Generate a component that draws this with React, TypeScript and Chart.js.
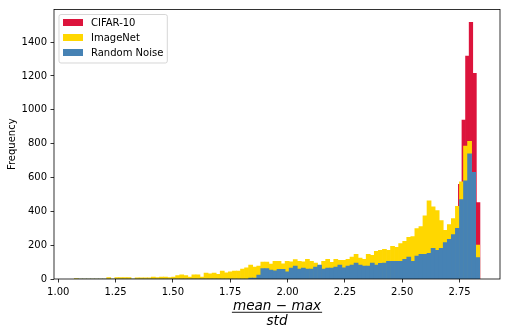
import React, { useEffect, useRef } from "react";
import { Chart, registerables } from "chart.js";

Chart.register(...registerables);

// ---- series ----
const seriesLabels = ["CIFAR-10", "ImageNet", "Random Noise"];
const seriesColors = ["#DC143C", "#FFD700", "#4682B4"];

// Shared bin grid of the ImageNet / Random Noise histograms (100 bins)
const binStart = 1.07;
const binWidth = 0.01768;

const imagenetCounts = [
  1, 0, 0, 0, 0, 0, 0, 0, 8, 0,
  8, 8, 8, 8, 0, 7, 7, 7, 7, 12,
  8, 12, 12, 8, 12, 20, 25, 20, 12, 25,
  24, 12, 35, 31, 35, 28, 47, 37, 43, 47,
  47, 58, 66, 82, 70, 76, 100, 100, 88, 105,
  105, 90, 105, 101, 115, 105, 101, 117, 105, 94,
  76, 105, 117, 99, 117, 111, 111, 117, 129, 146,
  123, 117, 146, 140, 164, 170, 175, 170, 193, 187,
  209, 222, 246, 251, 298, 310, 374, 462, 427, 404,
  345, 287, 322, 357, 429, 574, 785, 814, 625, 200,
];

const noiseCounts = [
  0, 0, 0, 0, 0, 0, 0, 0, 0, 0,
  0, 0, 0, 0, 0, 0, 0, 0, 0, 0,
  0, 0, 0, 0, 0, 0, 0, 0, 0, 0,
  0, 0, 0, 0, 0, 0, 0, 0, 0, 0,
  0, 0, 0, 6, 6, 23, 62, 62, 53, 48,
  57, 57, 43, 64, 76, 59, 64, 59, 59, 70,
  82, 59, 64, 64, 70, 82, 66, 76, 82, 94,
  82, 76, 76, 94, 82, 92, 94, 105, 105, 105,
  105, 117, 129, 105, 135, 146, 146, 152, 181, 170,
  181, 215, 235, 262, 300, 470, 580, 740, 630, 126,
];

// CIFAR-10 histogram has its own (narrower) bins; tail bins listed
const cifarBinStart = 2.525;
const cifarBinWidth = 0.0157;
const cifarCounts = [
  40, 45, 50, 55, 60, 65, 75, 85, 95, 110,
  140, 180, 250, 340, 560, 940, 1318, 1517, 1215, 452,
];

// ---- axes ----
const xTicks = [1.0, 1.25, 1.5, 1.75, 2.0, 2.25, 2.5, 2.75];
const yTicks = [0, 200, 400, 600, 800, 1000, 1200, 1400];
const yMax = 1593;
const yTitle = "Frequency";
const xTitleNumerator = "mean \u2212 max";
const xTitleDenominator = "std";

const FONT = "'DejaVu Sans', 'Liberation Sans', sans-serif";

export default function App() {
  const ref = useRef<HTMLCanvasElement>(null);

  useEffect(() => {
    const canvas = ref.current;
    if (!canvas) return;

    const lo = binStart;
    const hi = binStart + imagenetCounts.length * binWidth;
    const xMin = lo - 0.05 * (hi - lo);
    const xMax = hi + 0.05 * (hi - lo);

    const toPoints = (start: number, width: number, counts: number[]) =>
      counts.map((c, i) => ({ x: start + (i + 0.5) * width, y: c }));

    const decorPlugin = {
      id: "decor",
      afterDatasetsDraw(chart: any) {
        const { ctx, chartArea: ca } = chart;
        ctx.save();
        // frame
        ctx.strokeStyle = "#000";
        ctx.lineWidth = 0.8;
        ctx.strokeRect(ca.left, ca.top, ca.right - ca.left, ca.bottom - ca.top);

        // legend
        ctx.font = `10px ${FONT}`;
        const widths = seriesLabels.map((l) => ctx.measureText(l).width);
        const maxW = Math.max(...widths);
        const lx = ca.left + 5;
        const ly = ca.top + 5;
        const lw = 4 + 20 + 8 + maxW + 4;
        const lh = 48.5;
        ctx.beginPath();
        const r = 2;
        ctx.moveTo(lx + r, ly);
        ctx.lineTo(lx + lw - r, ly);
        ctx.quadraticCurveTo(lx + lw, ly, lx + lw, ly + r);
        ctx.lineTo(lx + lw, ly + lh - r);
        ctx.quadraticCurveTo(lx + lw, ly + lh, lx + lw - r, ly + lh);
        ctx.lineTo(lx + r, ly + lh);
        ctx.quadraticCurveTo(lx, ly + lh, lx, ly + lh - r);
        ctx.lineTo(lx, ly + r);
        ctx.quadraticCurveTo(lx, ly, lx + r, ly);
        ctx.closePath();
        ctx.fillStyle = "rgba(255,255,255,0.8)";
        ctx.fill();
        ctx.strokeStyle = "rgba(204,204,204,0.8)";
        ctx.lineWidth = 1;
        ctx.stroke();
        ctx.textAlign = "left";
        ctx.textBaseline = "middle";
        seriesLabels.forEach((label, k) => {
          const cy = ly + 8 + k * 15;
          ctx.fillStyle = seriesColors[k];
          ctx.fillRect(lx + 4, cy - 3.5, 20, 7);
          ctx.fillStyle = "#000";
          ctx.fillText(label, lx + 32, cy + 0.5);
        });
        ctx.restore();
      },
      afterDraw(chart: any) {
        const { ctx, chartArea: ca } = chart;
        ctx.save();
        const cx = (ca.left + ca.right) / 2;
        ctx.fillStyle = "#000";
        ctx.font = `italic 13.6px ${FONT}`;
        ctx.textAlign = "center";
        ctx.textBaseline = "alphabetic";
        ctx.fillText(xTitleNumerator, cx, ca.bottom + 31);
        const w = ctx.measureText(xTitleNumerator).width;
        ctx.fillRect(cx - w / 2 - 1, ca.bottom + 32.8, w + 2, 0.9);
        ctx.fillText(xTitleDenominator, cx, ca.bottom + 46);
        ctx.restore();
      },
    };

    const tickGrid = {
      drawOnChartArea: false,
      drawTicks: true,
      tickLength: 3.5,
      color: "#000",
      lineWidth: 0.8,
    };

    const chart = new Chart(canvas, {
      type: "bar",
      data: {
        datasets: [
          {
            label: seriesLabels[0],
            data: toPoints(cifarBinStart, cifarBinWidth, cifarCounts),
            backgroundColor: seriesColors[0],
            xAxisID: "x2",
            order: 3,
          },
          {
            label: seriesLabels[1],
            data: toPoints(binStart, binWidth, imagenetCounts),
            backgroundColor: seriesColors[1],
            xAxisID: "x",
            order: 2,
          },
          {
            label: seriesLabels[2],
            data: toPoints(binStart, binWidth, noiseCounts),
            backgroundColor: seriesColors[2],
            xAxisID: "x",
            order: 1,
          },
        ] as any,
      },
      options: {
        responsive: false,
        animation: false,
        devicePixelRatio: 1,
        layout: { padding: { left: 0, right: 7, top: 7, bottom: 0 } },
        plugins: { legend: { display: false }, tooltip: { enabled: false } },
        datasets: {
          bar: {
            barPercentage: 1,
            categoryPercentage: 1,
            grouped: false,
            borderWidth: 0,
          },
        } as any,
        scales: {
          x: {
            type: "linear",
            min: xMin,
            max: xMax,
            offset: false,
            afterBuildTicks: (s: any) => {
              s.ticks = xTicks.map((v) => ({ value: v }));
            },
            afterFit: (s: any) => {
              s.height = 57;
            },
            grid: { ...tickGrid, offset: false },
            border: { display: false },
            ticks: {
              color: "#000",
              font: { family: FONT, size: 10 },
              padding: 3.5,
              maxRotation: 0,
              autoSkip: false,
              callback: (v: any) => Number(v).toFixed(2),
            },
          },
          x2: {
            type: "linear",
            min: xMin,
            max: xMax,
            offset: false,
            display: false,
          },
          y: {
            type: "linear",
            min: 0,
            max: yMax,
            afterBuildTicks: (s: any) => {
              s.ticks = yTicks.map((v) => ({ value: v }));
            },
            afterFit: (s: any) => {
              s.width = 54;
            },
            grid: tickGrid,
            border: { display: false },
            ticks: {
              color: "#000",
              font: { family: FONT, size: 10 },
              padding: 3.5,
              callback: (v: any) => String(v),
            },
            title: {
              display: true,
              text: yTitle,
              color: "#000",
              font: { family: FONT, size: 10 },
              padding: { top: 6.5, bottom: 0 },
            },
          },
        } as any,
      },
      plugins: [decorPlugin],
    });

    return () => chart.destroy();
  }, []);

  return (
    <div style={{ position: "fixed", left: 0, top: 0, width: 507, height: 336, background: "#fff" }}>
      <canvas ref={ref} width={507} height={336} style={{ display: "block" }} />
    </div>
  );
}
